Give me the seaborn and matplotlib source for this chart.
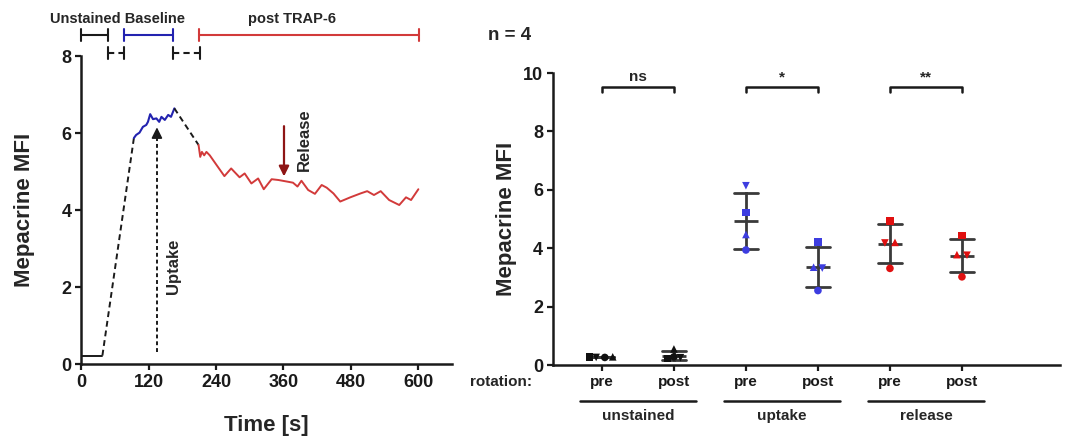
import numpy as np
import pandas as pd
import matplotlib
matplotlib.use("Agg")
import matplotlib.pyplot as plt
import seaborn as sns

# ---- left panel: mepacrine MFI trace over time ----
base_t = [0, 38]
base_v = [0.22, 0.22]
blue_t = [94, 98, 104, 110, 116, 119, 123, 128, 134, 139, 143, 149, 155, 160, 166]
blue_v = [5.87, 5.95, 6.01, 6.16, 6.21, 6.29, 6.49, 6.36, 6.38, 6.29, 6.42, 6.34, 6.47, 6.42, 6.64]
red_t = [209, 212, 215, 219, 223, 229, 241, 255, 267, 282, 291, 303, 315, 325, 339, 351,
         366, 377, 385, 392, 404, 416, 428, 437, 449, 461, 479, 497, 509, 521, 533, 548,
         566, 578, 587, 600]
red_v = [5.69, 5.38, 5.51, 5.42, 5.51, 5.42, 5.17, 4.88, 5.08, 4.85, 4.95, 4.69, 4.82, 4.54,
         4.80, 4.78, 4.74, 4.71, 4.61, 4.76, 4.52, 4.42, 4.65, 4.58, 4.43, 4.22, 4.33, 4.43,
         4.49, 4.39, 4.49, 4.26, 4.13, 4.33, 4.26, 4.54]

# recording phases shown above the trace (start, end in s)
phase_unstained = (0, 48)
phase_gap1 = (48, 77)
phase_baseline = (77, 163)
phase_gap2 = (163, 212)
phase_trap = (210, 602)
uptake_t, uptake_lo, uptake_hi = 135, 0.3, 6.22
release_t, release_hi, release_lo = 361, 6.25, 4.8

# ---- right panel: MFI per donor ----
groups = ["unstained", "uptake", "release"]
rotation = ["pre", "post"]
subjects = ["A", "B", "C", "D"]
unstained_pre = [0.27, 0.28, 0.26, 0.26]
unstained_post = [0.22, 0.55, 0.25, 0.28]
uptake_pre = [5.23, 4.47, 6.14, 3.94]
uptake_post = [4.22, 3.35, 3.32, 2.55]
release_pre = [4.93, 4.20, 4.18, 3.31]
release_post = [4.43, 3.78, 3.76, 3.02]
sig_labels = ["ns", "*", "**"]

# horizontal nudges so overlapping symbols stay visible
nudge = [[-0.17, 0.15, -0.08, 0.04],
         [-0.09, 0.0, 0.09, 0.0],
         [0, 0, 0, 0],
         [0, -0.06, 0.06, 0],
         [0, 0.07, -0.07, 0],
         [0, -0.07, 0.07, 0]]

BLACK = "#1a1a1a"
BLUE = "#2323b0"
RED = "#d23a3a"
group_colors = {"unstained": "#111111", "uptake": "#3d3de0", "release": "#e01010"}
subject_markers = {"A": "s", "B": "^", "C": "v", "D": "o"}

sns.set_theme(style="ticks")
plt.rcParams["font.family"] = ["Liberation Sans", "DejaVu Sans"]
plt.rcParams["font.weight"] = "bold"
plt.rcParams["axes.labelweight"] = "bold"
plt.rcParams["axes.linewidth"] = 1.8
plt.rcParams["xtick.major.width"] = 1.6
plt.rcParams["ytick.major.width"] = 1.6
plt.rcParams["xtick.color"] = BLACK
plt.rcParams["ytick.color"] = BLACK
plt.rcParams["axes.edgecolor"] = BLACK

fig = plt.figure(figsize=(10.65, 4.36), dpi=100)
ax1 = fig.add_axes([0.0761, 0.1651, 0.3484, 0.7064])
ax2 = fig.add_axes([0.5192, 0.1628, 0.476, 0.6697])

# left trace
sns.lineplot(x=base_t, y=base_v, color=BLACK, linewidth=1.4, ax=ax1)
sns.lineplot(x=[base_t[-1], blue_t[0]], y=[base_v[-1], blue_v[0]], color=BLACK,
             linewidth=1.4, linestyle=(0, (3, 2)), ax=ax1)
sns.lineplot(x=blue_t, y=blue_v, color=BLUE, linewidth=1.5, ax=ax1)
sns.lineplot(x=[blue_t[-1], red_t[0]], y=[blue_v[-1], red_v[0]], color=BLACK,
             linewidth=1.4, linestyle=(0, (3, 2)), ax=ax1)
sns.lineplot(x=red_t, y=red_v, color=RED, linewidth=1.4, ax=ax1)

# uptake arrow (dotted shaft, solid head)
ax1.plot([uptake_t, uptake_t], [uptake_lo, uptake_hi - 0.3], color=BLACK,
         linewidth=1.4, linestyle=(0, (2, 1.5)))
ax1.annotate("", xy=(uptake_t, uptake_hi), xytext=(uptake_t, uptake_hi - 0.4),
             arrowprops=dict(arrowstyle="-|>", color=BLACK, lw=1.2, mutation_scale=16))
ax1.text(165, 2.55, "Uptake", rotation=90, ha="center", va="center", fontsize=12)

# release arrow
ax1.annotate("", xy=(release_t, release_lo), xytext=(release_t, release_hi),
             arrowprops=dict(arrowstyle="-|>", color="#8e1515", lw=1.6, mutation_scale=15))
ax1.text(397, 5.83, "Release", rotation=90, ha="center", va="center", fontsize=12)

# phase bars above the axes
def phase_bar(ax, span, y, color, dashed=False):
    ls = (0, (3, 2)) if dashed else "-"
    ax.plot([span[0], span[1]], [y, y], color=color, lw=1.5, ls=ls, clip_on=False)
    for x in span:
        ax.plot([x, x], [y - 0.15, y + 0.15], color=color, lw=1.5, clip_on=False)

phase_bar(ax1, phase_unstained, 8.55, BLACK)
phase_bar(ax1, phase_baseline, 8.55, BLUE)
phase_bar(ax1, phase_trap, 8.55, RED)
phase_bar(ax1, phase_gap1, 8.08, BLACK, dashed=True)
phase_bar(ax1, phase_gap2, 8.08, BLACK, dashed=True)
ax1.text(64, 8.96, "Unstained Baseline", ha="center", va="center", fontsize=10.5, clip_on=False)
ax1.text(376, 8.96, "post TRAP-6", ha="center", va="center", fontsize=10.5, clip_on=False)

ax1.set_xlim(0, 660)
ax1.set_ylim(0, 8)
ax1.set_xticks([0, 120, 240, 360, 480, 600])
ax1.set_yticks([0, 2, 4, 6, 8])
ax1.tick_params(labelsize=13, length=4, pad=3)
ax1.set_xlabel("Time [s]", fontsize=16)
ax1.set_ylabel("Mepacrine MFI", fontsize=16)
ax1.xaxis.set_label_coords(0.5, -0.165)
ax1.yaxis.set_label_coords(-0.125, 0.5)
sns.despine(ax=ax1)

# right panel data table
rows = []
values = [unstained_pre, unstained_post, uptake_pre, uptake_post, release_pre, release_post]
for gi, g in enumerate(groups):
    for ri, r in enumerate(rotation):
        k = gi * 2 + ri
        for si, s in enumerate(subjects):
            rows.append(dict(pos=k, xpos=k + nudge[k][si], value=values[k][si],
                             group=g, subject=s))
df = pd.DataFrame(rows)

sns.pointplot(data=df, x="pos", y="value", native_scale=True, errorbar="sd",
              capsize=0.33, color="#3a3a3a", marker="_", markersize=17,
              markeredgewidth=2, linestyle="none", err_kws={"linewidth": 2}, ax=ax2)
sns.scatterplot(data=df, x="xpos", y="value", hue="group", palette=group_colors,
                style="subject", markers=subject_markers, s=30, linewidth=0,
                legend=False, ax=ax2, zorder=3)

for gi, lab in enumerate(sig_labels):
    x0, x1 = 2 * gi, 2 * gi + 1
    ax2.plot([x0, x0, x1, x1], [9.36, 9.53, 9.53, 9.36], color=BLACK, lw=1.8)
    ax2.text((x0 + x1) / 2, 9.62, lab, ha="center", va="bottom", fontsize=11)
    mid = 2 * gi + 0.5
    ax2.plot([mid - 0.8, mid + 0.8], [-1.23, -1.23], color=BLACK, lw=1.8, clip_on=False)
    ax2.text(mid, -1.74, groups[gi], ha="center", va="center", fontsize=11, clip_on=False)

ax2.text(-0.97, -0.58, "rotation:", ha="right", va="center", fontsize=11, clip_on=False)
fig.text(488 / 1065, 1 - 35 / 436, "n = 4", ha="left", va="center", fontsize=13.5)

ax2.set_xlim(-0.68, 6.36)
ax2.set_ylim(0, 10)
ax2.set_xticks(range(6))
ax2.set_xticklabels(rotation * 3)
ax2.set_yticks([0, 2, 4, 6, 8, 10])
ax2.tick_params(axis="y", labelsize=13, length=4, pad=3)
ax2.tick_params(axis="x", labelsize=11, length=4, pad=3)
ax2.set_xlabel("")
ax2.set_ylabel("Mepacrine MFI", fontsize=16)
ax2.yaxis.set_label_coords(-0.07, 0.5)
sns.despine(ax=ax2)

fig.savefig("out.png", dpi=100)
